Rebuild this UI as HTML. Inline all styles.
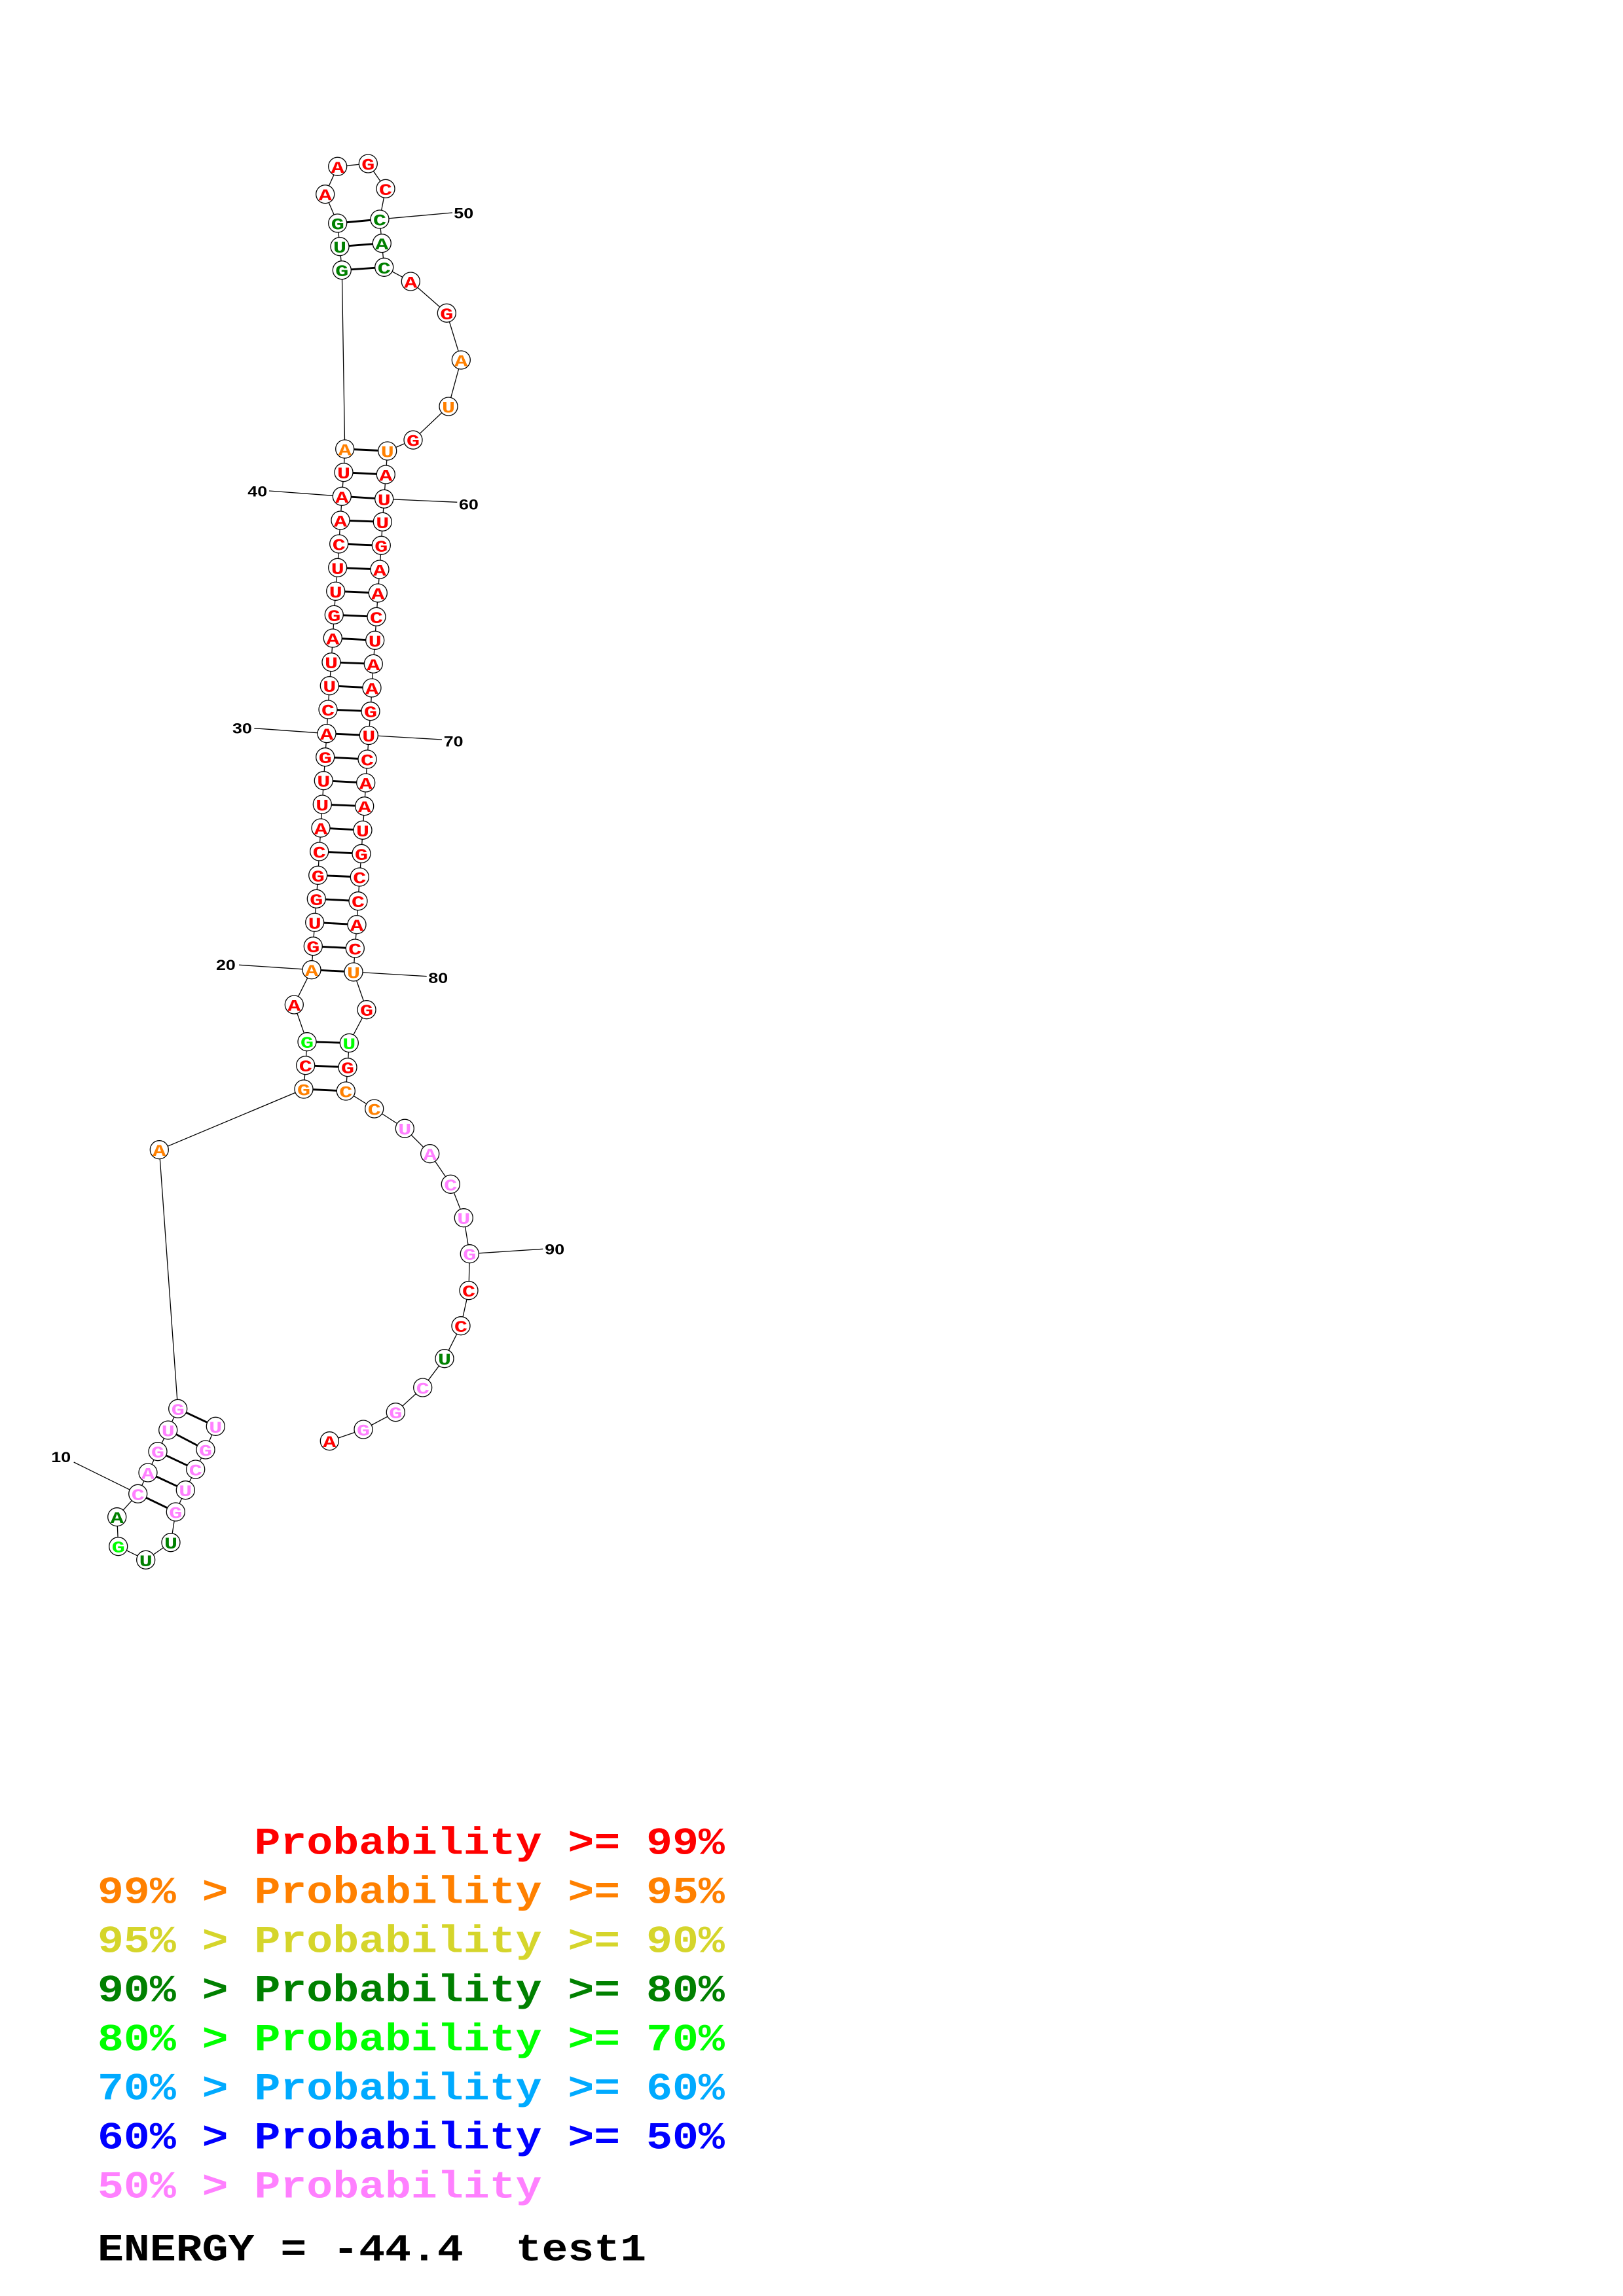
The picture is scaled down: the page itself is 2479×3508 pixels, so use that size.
<!DOCTYPE html>
<html>
<head>
<meta charset="utf-8">
<style>
html,body{margin:0;padding:0;background:#fff;}
svg{display:block;}
circle{fill:#fff;stroke:#000;stroke-width:1.3;}
.bb{fill:none;stroke:#000;stroke-width:1.3;}
.pr{stroke:#000;stroke-width:2.9;}
.ll{stroke:#000;stroke-width:1.3;}
.n{font-family:"Liberation Mono",monospace;font-weight:bold;font-size:25px;text-anchor:middle;}
.lb{font-family:"Liberation Sans",sans-serif;font-weight:bold;font-size:22px;fill:#000;}
.lg{font-family:"Liberation Mono",monospace;font-weight:bold;font-size:58px;white-space:pre;}
.r{fill:#ff0000;}.o{fill:#ff8000;}.y{fill:#d5d52b;}.g{fill:#008000;}.G{fill:#00ff00;}.b{fill:#00aaff;}.B{fill:#0000ff;}.p{fill:#ff80ff;}.k{fill:#000;}
</style>
</head>
<body>
<svg xmlns="http://www.w3.org/2000/svg" width="2479" height="3508" viewBox="0 0 2479 3508">
<rect x="0" y="0" width="2479" height="3508" fill="#fff"/>

<!-- label lines -->
<line class="ll" x1="580" y1="335" x2="691" y2="325"/>
<line class="ll" x1="522.3" y1="758.3" x2="411" y2="750"/>
<line class="ll" x1="586.7" y1="762.3" x2="698.3" y2="767.3"/>
<line class="ll" x1="499" y1="1120.7" x2="388.3" y2="1112.7"/>
<line class="ll" x1="563.3" y1="1123.5" x2="675" y2="1130"/>
<line class="ll" x1="476" y1="1481.7" x2="365" y2="1474.3"/>
<line class="ll" x1="540" y1="1485" x2="651.7" y2="1491.7"/>
<line class="ll" x1="717.3" y1="1915.7" x2="829.3" y2="1908.3"/>
<line class="ll" x1="210.7" y1="2282.3" x2="112.7" y2="2234"/>

<!-- backbone -->
<polyline class="bb" points="329.3,2179.3 314,2215 298.7,2245 283.3,2276.7 268.3,2310 261,2356.7 222.7,2383.3 180.7,2362.7 178.7,2317.7 210.7,2282.3 226,2250 241,2217.7 256.7,2185 271.7,2152.3 243.3,1756.7 464,1664 466.7,1627.7 469,1591.7 449.3,1535 476,1481.7 478.3,1445.7 480.7,1409.3 483.3,1373.3 485.7,1337.3 487.7,1301 490,1265 492.3,1229 494.3,1192.7 496.7,1156.7 499,1120.7 501,1084 503.3,1047.7 506,1011.7 508.3,975 510.3,939.3 512.7,903.3 515.7,867.3 517.7,831 520,795 522.3,758.3 525,721.7 526.7,686 522.3,412.7 519,376.7 515.7,341 496.7,296.7 515.7,254.3 562.3,250 589,288.3 580,335 583.3,371.7 586.7,408.3 627.3,430 682.3,478.3 704.3,550 685,621 631,672.2 591.7,689 589.3,725 586.7,762.3 584.3,797.3 582.3,833.3 580,870 577.3,906 575,942.3 572.7,978.3 570.3,1014.3 568,1051 566,1086.7 563.3,1123.5 561,1160 558.7,1196 556.7,1231.7 554,1268.3 552,1304.3 549.3,1340 547,1376.7 545,1412.7 542.3,1449 540,1485 560,1542.7 533.3,1593.5 531,1630.7 528.3,1667 571.7,1694 618.3,1724.2 656.7,1762.7 688.3,1809.3 708.3,1860.7 717.3,1915.7 716,1971.7 704,2025.7 679,2075.7 645.7,2120 604.3,2157.7 555,2184 503.3,2201.7"/>

<!-- pairs -->
<line class="pr" x1="329.3" y1="2179.3" x2="271.7" y2="2152.3"/>
<line class="pr" x1="314" y1="2215" x2="256.7" y2="2185"/>
<line class="pr" x1="298.7" y1="2245" x2="241" y2="2217.7"/>
<line class="pr" x1="283.3" y1="2276.7" x2="226" y2="2250"/>
<line class="pr" x1="268.3" y1="2310" x2="210.7" y2="2282.3"/>
<line class="pr" x1="464" y1="1664" x2="528.3" y2="1667"/>
<line class="pr" x1="466.7" y1="1627.7" x2="531" y2="1630.7"/>
<line class="pr" x1="469" y1="1591.7" x2="533.3" y2="1593.5"/>
<line class="pr" x1="476" y1="1481.7" x2="540" y2="1485"/>
<line class="pr" x1="478.3" y1="1445.7" x2="542.3" y2="1449"/>
<line class="pr" x1="480.7" y1="1409.3" x2="545" y2="1412.7"/>
<line class="pr" x1="483.3" y1="1373.3" x2="547" y2="1376.7"/>
<line class="pr" x1="485.7" y1="1337.3" x2="549.3" y2="1340"/>
<line class="pr" x1="487.7" y1="1301" x2="552" y2="1304.3"/>
<line class="pr" x1="490" y1="1265" x2="554" y2="1268.3"/>
<line class="pr" x1="492.3" y1="1229" x2="556.7" y2="1231.7"/>
<line class="pr" x1="494.3" y1="1192.7" x2="558.7" y2="1196"/>
<line class="pr" x1="496.7" y1="1156.7" x2="561" y2="1160"/>
<line class="pr" x1="499" y1="1120.7" x2="563.3" y2="1123.5"/>
<line class="pr" x1="501" y1="1084" x2="566" y2="1086.7"/>
<line class="pr" x1="503.3" y1="1047.7" x2="568" y2="1051"/>
<line class="pr" x1="506" y1="1011.7" x2="570.3" y2="1014.3"/>
<line class="pr" x1="508.3" y1="975" x2="572.7" y2="978.3"/>
<line class="pr" x1="510.3" y1="939.3" x2="575" y2="942.3"/>
<line class="pr" x1="512.7" y1="903.3" x2="577.3" y2="906"/>
<line class="pr" x1="515.7" y1="867.3" x2="580" y2="870"/>
<line class="pr" x1="517.7" y1="831" x2="582.3" y2="833.3"/>
<line class="pr" x1="520" y1="795" x2="584.3" y2="797.3"/>
<line class="pr" x1="522.3" y1="758.3" x2="586.7" y2="762.3"/>
<line class="pr" x1="525" y1="721.7" x2="589.3" y2="725"/>
<line class="pr" x1="526.7" y1="686" x2="591.7" y2="689"/>
<line class="pr" x1="522.3" y1="412.7" x2="586.7" y2="408.3"/>
<line class="pr" x1="519" y1="376.7" x2="583.3" y2="371.7"/>
<line class="pr" x1="515.7" y1="341" x2="580" y2="335"/>

<!-- nucleotides -->
<circle cx="329.3" cy="2179.3" r="14"/><text class="n p" transform="translate(329.3 2188.8) scale(1.35 1)">U</text>
<circle cx="314" cy="2215" r="14"/><text class="n p" transform="translate(314 2224.5) scale(1.35 1)">G</text>
<circle cx="298.7" cy="2245" r="14"/><text class="n p" transform="translate(298.7 2254.5) scale(1.35 1)">C</text>
<circle cx="283.3" cy="2276.7" r="14"/><text class="n p" transform="translate(283.3 2286.2) scale(1.35 1)">U</text>
<circle cx="268.3" cy="2310" r="14"/><text class="n p" transform="translate(268.3 2319.5) scale(1.35 1)">G</text>
<circle cx="261" cy="2356.7" r="14"/><text class="n g" transform="translate(261 2366.2) scale(1.35 1)">U</text>
<circle cx="222.7" cy="2383.3" r="14"/><text class="n g" transform="translate(222.7 2392.8) scale(1.35 1)">U</text>
<circle cx="180.7" cy="2362.7" r="14"/><text class="n G" transform="translate(180.7 2372.2) scale(1.35 1)">G</text>
<circle cx="178.7" cy="2317.7" r="14"/><text class="n g" transform="translate(178.7 2327.2) scale(1.35 1)">A</text>
<circle cx="210.7" cy="2282.3" r="14"/><text class="n p" transform="translate(210.7 2291.8) scale(1.35 1)">C</text>
<circle cx="226" cy="2250" r="14"/><text class="n p" transform="translate(226 2259.5) scale(1.35 1)">A</text>
<circle cx="241" cy="2217.7" r="14"/><text class="n p" transform="translate(241 2227.2) scale(1.35 1)">G</text>
<circle cx="256.7" cy="2185" r="14"/><text class="n p" transform="translate(256.7 2194.5) scale(1.35 1)">U</text>
<circle cx="271.7" cy="2152.3" r="14"/><text class="n p" transform="translate(271.7 2161.8) scale(1.35 1)">G</text>
<circle cx="243.3" cy="1756.7" r="14"/><text class="n o" transform="translate(243.3 1766.2) scale(1.35 1)">A</text>
<circle cx="464" cy="1664" r="14"/><text class="n o" transform="translate(464 1673.5) scale(1.35 1)">G</text>
<circle cx="466.7" cy="1627.7" r="14"/><text class="n r" transform="translate(466.7 1637.2) scale(1.35 1)">C</text>
<circle cx="469" cy="1591.7" r="14"/><text class="n G" transform="translate(469 1601.2) scale(1.35 1)">G</text>
<circle cx="449.3" cy="1535" r="14"/><text class="n r" transform="translate(449.3 1544.5) scale(1.35 1)">A</text>
<circle cx="476" cy="1481.7" r="14"/><text class="n o" transform="translate(476 1491.2) scale(1.35 1)">A</text>
<circle cx="478.3" cy="1445.7" r="14"/><text class="n r" transform="translate(478.3 1455.2) scale(1.35 1)">G</text>
<circle cx="480.7" cy="1409.3" r="14"/><text class="n r" transform="translate(480.7 1418.8) scale(1.35 1)">U</text>
<circle cx="483.3" cy="1373.3" r="14"/><text class="n r" transform="translate(483.3 1382.8) scale(1.35 1)">G</text>
<circle cx="485.7" cy="1337.3" r="14"/><text class="n r" transform="translate(485.7 1346.8) scale(1.35 1)">G</text>
<circle cx="487.7" cy="1301" r="14"/><text class="n r" transform="translate(487.7 1310.5) scale(1.35 1)">C</text>
<circle cx="490" cy="1265" r="14"/><text class="n r" transform="translate(490 1274.5) scale(1.35 1)">A</text>
<circle cx="492.3" cy="1229" r="14"/><text class="n r" transform="translate(492.3 1238.5) scale(1.35 1)">U</text>
<circle cx="494.3" cy="1192.7" r="14"/><text class="n r" transform="translate(494.3 1202.2) scale(1.35 1)">U</text>
<circle cx="496.7" cy="1156.7" r="14"/><text class="n r" transform="translate(496.7 1166.2) scale(1.35 1)">G</text>
<circle cx="499" cy="1120.7" r="14"/><text class="n r" transform="translate(499 1130.2) scale(1.35 1)">A</text>
<circle cx="501" cy="1084" r="14"/><text class="n r" transform="translate(501 1093.5) scale(1.35 1)">C</text>
<circle cx="503.3" cy="1047.7" r="14"/><text class="n r" transform="translate(503.3 1057.2) scale(1.35 1)">U</text>
<circle cx="506" cy="1011.7" r="14"/><text class="n r" transform="translate(506 1021.2) scale(1.35 1)">U</text>
<circle cx="508.3" cy="975" r="14"/><text class="n r" transform="translate(508.3 984.5) scale(1.35 1)">A</text>
<circle cx="510.3" cy="939.3" r="14"/><text class="n r" transform="translate(510.3 948.8) scale(1.35 1)">G</text>
<circle cx="512.7" cy="903.3" r="14"/><text class="n r" transform="translate(512.7 912.8) scale(1.35 1)">U</text>
<circle cx="515.7" cy="867.3" r="14"/><text class="n r" transform="translate(515.7 876.8) scale(1.35 1)">U</text>
<circle cx="517.7" cy="831" r="14"/><text class="n r" transform="translate(517.7 840.5) scale(1.35 1)">C</text>
<circle cx="520" cy="795" r="14"/><text class="n r" transform="translate(520 804.5) scale(1.35 1)">A</text>
<circle cx="522.3" cy="758.3" r="14"/><text class="n r" transform="translate(522.3 767.8) scale(1.35 1)">A</text>
<circle cx="525" cy="721.7" r="14"/><text class="n r" transform="translate(525 731.2) scale(1.35 1)">U</text>
<circle cx="526.7" cy="686" r="14"/><text class="n o" transform="translate(526.7 695.5) scale(1.35 1)">A</text>
<circle cx="522.3" cy="412.7" r="14"/><text class="n g" transform="translate(522.3 422.2) scale(1.35 1)">G</text>
<circle cx="519" cy="376.7" r="14"/><text class="n g" transform="translate(519 386.2) scale(1.35 1)">U</text>
<circle cx="515.7" cy="341" r="14"/><text class="n g" transform="translate(515.7 350.5) scale(1.35 1)">G</text>
<circle cx="496.7" cy="296.7" r="14"/><text class="n r" transform="translate(496.7 306.2) scale(1.35 1)">A</text>
<circle cx="515.7" cy="254.3" r="14"/><text class="n r" transform="translate(515.7 263.8) scale(1.35 1)">A</text>
<circle cx="562.3" cy="250" r="14"/><text class="n r" transform="translate(562.3 259.5) scale(1.35 1)">G</text>
<circle cx="589" cy="288.3" r="14"/><text class="n r" transform="translate(589 297.8) scale(1.35 1)">C</text>
<circle cx="580" cy="335" r="14"/><text class="n g" transform="translate(580 344.5) scale(1.35 1)">C</text>
<circle cx="583.3" cy="371.7" r="14"/><text class="n g" transform="translate(583.3 381.2) scale(1.35 1)">A</text>
<circle cx="586.7" cy="408.3" r="14"/><text class="n g" transform="translate(586.7 417.8) scale(1.35 1)">C</text>
<circle cx="627.3" cy="430" r="14"/><text class="n r" transform="translate(627.3 439.5) scale(1.35 1)">A</text>
<circle cx="682.3" cy="478.3" r="14"/><text class="n r" transform="translate(682.3 487.8) scale(1.35 1)">G</text>
<circle cx="704.3" cy="550" r="14"/><text class="n o" transform="translate(704.3 559.5) scale(1.35 1)">A</text>
<circle cx="685" cy="621" r="14"/><text class="n o" transform="translate(685 630.5) scale(1.35 1)">U</text>
<circle cx="631" cy="672.2" r="14"/><text class="n r" transform="translate(631 681.7) scale(1.35 1)">G</text>
<circle cx="591.7" cy="689" r="14"/><text class="n o" transform="translate(591.7 698.5) scale(1.35 1)">U</text>
<circle cx="589.3" cy="725" r="14"/><text class="n r" transform="translate(589.3 734.5) scale(1.35 1)">A</text>
<circle cx="586.7" cy="762.3" r="14"/><text class="n r" transform="translate(586.7 771.8) scale(1.35 1)">U</text>
<circle cx="584.3" cy="797.3" r="14"/><text class="n r" transform="translate(584.3 806.8) scale(1.35 1)">U</text>
<circle cx="582.3" cy="833.3" r="14"/><text class="n r" transform="translate(582.3 842.8) scale(1.35 1)">G</text>
<circle cx="580" cy="870" r="14"/><text class="n r" transform="translate(580 879.5) scale(1.35 1)">A</text>
<circle cx="577.3" cy="906" r="14"/><text class="n r" transform="translate(577.3 915.5) scale(1.35 1)">A</text>
<circle cx="575" cy="942.3" r="14"/><text class="n r" transform="translate(575 951.8) scale(1.35 1)">C</text>
<circle cx="572.7" cy="978.3" r="14"/><text class="n r" transform="translate(572.7 987.8) scale(1.35 1)">U</text>
<circle cx="570.3" cy="1014.3" r="14"/><text class="n r" transform="translate(570.3 1023.8) scale(1.35 1)">A</text>
<circle cx="568" cy="1051" r="14"/><text class="n r" transform="translate(568 1060.5) scale(1.35 1)">A</text>
<circle cx="566" cy="1086.7" r="14"/><text class="n r" transform="translate(566 1096.2) scale(1.35 1)">G</text>
<circle cx="563.3" cy="1123.5" r="14"/><text class="n r" transform="translate(563.3 1133) scale(1.35 1)">U</text>
<circle cx="561" cy="1160" r="14"/><text class="n r" transform="translate(561 1169.5) scale(1.35 1)">C</text>
<circle cx="558.7" cy="1196" r="14"/><text class="n r" transform="translate(558.7 1205.5) scale(1.35 1)">A</text>
<circle cx="556.7" cy="1231.7" r="14"/><text class="n r" transform="translate(556.7 1241.2) scale(1.35 1)">A</text>
<circle cx="554" cy="1268.3" r="14"/><text class="n r" transform="translate(554 1277.8) scale(1.35 1)">U</text>
<circle cx="552" cy="1304.3" r="14"/><text class="n r" transform="translate(552 1313.8) scale(1.35 1)">G</text>
<circle cx="549.3" cy="1340" r="14"/><text class="n r" transform="translate(549.3 1349.5) scale(1.35 1)">C</text>
<circle cx="547" cy="1376.7" r="14"/><text class="n r" transform="translate(547 1386.2) scale(1.35 1)">C</text>
<circle cx="545" cy="1412.7" r="14"/><text class="n r" transform="translate(545 1422.2) scale(1.35 1)">A</text>
<circle cx="542.3" cy="1449" r="14"/><text class="n r" transform="translate(542.3 1458.5) scale(1.35 1)">C</text>
<circle cx="540" cy="1485" r="14"/><text class="n o" transform="translate(540 1494.5) scale(1.35 1)">U</text>
<circle cx="560" cy="1542.7" r="14"/><text class="n r" transform="translate(560 1552.2) scale(1.35 1)">G</text>
<circle cx="533.3" cy="1593.5" r="14"/><text class="n G" transform="translate(533.3 1603) scale(1.35 1)">U</text>
<circle cx="531" cy="1630.7" r="14"/><text class="n r" transform="translate(531 1640.2) scale(1.35 1)">G</text>
<circle cx="528.3" cy="1667" r="14"/><text class="n o" transform="translate(528.3 1676.5) scale(1.35 1)">C</text>
<circle cx="571.7" cy="1694" r="14"/><text class="n o" transform="translate(571.7 1703.5) scale(1.35 1)">C</text>
<circle cx="618.3" cy="1724.2" r="14"/><text class="n p" transform="translate(618.3 1733.7) scale(1.35 1)">U</text>
<circle cx="656.7" cy="1762.7" r="14"/><text class="n p" transform="translate(656.7 1772.2) scale(1.35 1)">A</text>
<circle cx="688.3" cy="1809.3" r="14"/><text class="n p" transform="translate(688.3 1818.8) scale(1.35 1)">C</text>
<circle cx="708.3" cy="1860.7" r="14"/><text class="n p" transform="translate(708.3 1870.2) scale(1.35 1)">U</text>
<circle cx="717.3" cy="1915.7" r="14"/><text class="n p" transform="translate(717.3 1925.2) scale(1.35 1)">G</text>
<circle cx="716" cy="1971.7" r="14"/><text class="n r" transform="translate(716 1981.2) scale(1.35 1)">C</text>
<circle cx="704" cy="2025.7" r="14"/><text class="n r" transform="translate(704 2035.2) scale(1.35 1)">C</text>
<circle cx="679" cy="2075.7" r="14"/><text class="n g" transform="translate(679 2085.2) scale(1.35 1)">U</text>
<circle cx="645.7" cy="2120" r="14"/><text class="n p" transform="translate(645.7 2129.5) scale(1.35 1)">C</text>
<circle cx="604.3" cy="2157.7" r="14"/><text class="n p" transform="translate(604.3 2167.2) scale(1.35 1)">G</text>
<circle cx="555" cy="2184" r="14"/><text class="n p" transform="translate(555 2193.5) scale(1.35 1)">G</text>
<circle cx="503.3" cy="2201.7" r="14"/><text class="n r" transform="translate(503.3 2211.2) scale(1.35 1)">A</text>

<!-- numbering labels -->
<text class="lb" transform="translate(693.3 333.3) scale(1.22 1)">50</text>
<text class="lb" transform="translate(378.3 758.3) scale(1.22 1)">40</text>
<text class="lb" transform="translate(701 778.3) scale(1.22 1)">60</text>
<text class="lb" transform="translate(355 1120.5) scale(1.22 1)">30</text>
<text class="lb" transform="translate(677.7 1140.5) scale(1.22 1)">70</text>
<text class="lb" transform="translate(330 1482) scale(1.22 1)">20</text>
<text class="lb" transform="translate(654.3 1502) scale(1.22 1)">80</text>
<text class="lb" transform="translate(832.3 1916.7) scale(1.22 1)">90</text>
<text class="lb" transform="translate(78.3 2234) scale(1.22 1)">10</text>

<!-- legend -->
<text class="lg r" xml:space="preserve" transform="translate(388.5 2832.3) scale(1.147 1)">Probability &gt;= 99%</text>
<text class="lg o" xml:space="preserve" transform="translate(149 2907.5) scale(1.147 1)">99% &gt; Probability &gt;= 95%</text>
<text class="lg y" xml:space="preserve" transform="translate(149 2982.5) scale(1.147 1)">95% &gt; Probability &gt;= 90%</text>
<text class="lg g" xml:space="preserve" transform="translate(149 3057.5) scale(1.147 1)">90% &gt; Probability &gt;= 80%</text>
<text class="lg G" xml:space="preserve" transform="translate(149 3132.5) scale(1.147 1)">80% &gt; Probability &gt;= 70%</text>
<text class="lg b" xml:space="preserve" transform="translate(149 3207.5) scale(1.147 1)">70% &gt; Probability &gt;= 60%</text>
<text class="lg B" xml:space="preserve" transform="translate(149 3282.5) scale(1.147 1)">60% &gt; Probability &gt;= 50%</text>
<text class="lg p" xml:space="preserve" transform="translate(149 3357.5) scale(1.147 1)">50% &gt; Probability</text>
<text class="lg k" xml:space="preserve" transform="translate(149 3453.3) scale(1.147 1)">ENERGY = -44.4  test1</text>
</svg>
</body>
</html>
